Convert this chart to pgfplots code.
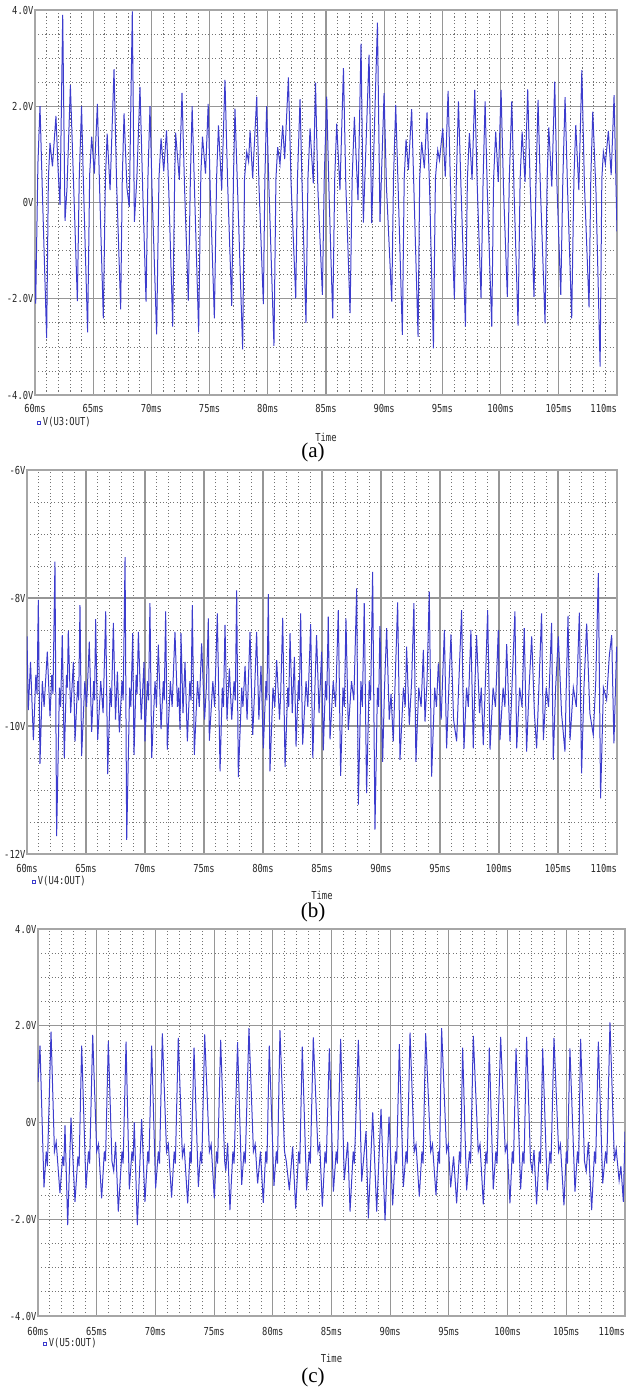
\documentclass[border=0pt]{standalone}
\usepackage{fontspec}
\setmainfont{Liberation Serif}
\newfontfamily\psfont[FakeStretch=0.8]{DejaVu Sans Mono}
\usepackage{pgfplots}
\usepackage{pgfplotstable}
\pgfplotsset{compat=1.18}
\definecolor{lc}{RGB}{60,60,205}
\definecolor{gmaj}{RGB}{150,150,150}
\definecolor{gmin}{RGB}{115,115,115}

\pgfplotsset{psp/.style={
  scale only axis, no markers,
  xmin=60, xmax=110,
  xtick={60,65,...,110},
  xticklabels={60ms,65ms,70ms,75ms,80ms,85ms,90ms,95ms,100ms,105ms,\makebox[0pt][r]{110ms}},
  minor x tick num=4, minor y tick num=3,
  grid=both,
  major grid style={gmaj, line width=0.55pt},
  minor grid style={gmin, line width=0.35pt, dash pattern=on 0.55pt off 1.15pt},
  major tick length=0pt, minor tick length=0pt,
  axis line style={gmaj!85, line width=0.6pt},
  ticklabel style={font=\psfont\fontsize{5.5}{6}\selectfont, text=black!85},
  xticklabel style={anchor=base, yshift=-9pt},
  yticklabel style={anchor=east, inner sep=0.6pt},
  xlabel={Time},
  xlabel style={at={(0.5,-0.109)}, anchor=center, font=\psfont\fontsize{5.5}{6}\selectfont, text=black!85},
  legend style={draw=none, fill=none, anchor=west, inner sep=0pt,
    font=\psfont\fontsize{5.5}{6}\selectfont, text=black!85,
    nodes={inner sep=1pt}},
  legend image code/.code={\draw[lc, line width=0.4pt] (0pt,-0.9pt) rectangle (1.8pt,0.9pt);},
}}

\pgfplotstableread{
t v
60.00 -1.2
60.06 -2.1
60.25 0.8
60.43 2.0
60.60 0.5
61.00 -2.82
61.15 0.5
61.29 1.24
61.50 0.75
61.80 1.8
62.00 0.6
62.15 -0.05
62.38 3.9
62.58 -0.38
62.75 0.3
63.04 2.44
63.30 0.5
63.64 -2.05
63.80 0.5
64.00 2.0
64.15 0.5
64.52 -2.7
64.70 0.6
64.87 1.37
65.10 0.6
65.36 2.05
65.55 0.3
65.87 -2.41
66.05 0.5
66.20 1.43
66.45 0.26
66.79 2.77
67.00 0.5
67.36 -2.22
67.50 0.5
67.65 1.85
67.90 0.3
68.10 -0.09
68.36 3.97
68.54 -0.4
68.75 0.5
69.02 2.4
69.25 0.3
69.54 -2.06
69.70 0.5
69.88 2.0
70.05 0.3
70.45 -2.74
70.65 0.5
70.83 1.33
71.06 0.65
71.30 1.5
71.50 0.2
71.83 -2.58
72.00 0.5
72.08 1.45
72.40 0.47
72.63 2.28
72.85 0.3
73.17 -2.04
73.35 0.5
73.50 2.0
73.70 0.3
74.06 -2.7
74.25 0.6
74.39 1.37
74.65 0.6
74.88 2.05
75.05 0.3
75.41 -2.41
75.60 0.5
75.76 1.6
76.04 0.26
76.32 2.55
76.55 0.4
76.90 -2.15
77.05 0.5
77.18 1.95
77.40 0.3
77.84 -3.05
78.00 0.5
78.19 1.05
78.35 0.85
78.48 1.5
78.70 0.5
79.05 2.2
79.25 0.3
79.62 -2.11
79.75 0.5
79.90 2.0
80.10 0.3
80.53 -2.98
80.70 0.5
80.85 1.15
81.05 0.8
81.28 1.6
81.45 0.9
81.77 2.6
82.00 0.4
82.40 -1.99
82.55 0.5
82.77 2.15
82.95 0.3
83.28 -2.5
83.45 0.5
83.63 1.54
83.91 0.4
84.10 2.49
84.30 0.3
84.69 -1.92
84.85 0.5
85.06 2.2
85.25 0.3
85.58 -2.41
85.75 0.5
85.92 1.64
86.20 0.26
86.50 2.79
86.70 0.4
87.07 -2.3
87.25 0.5
87.44 1.78
87.75 0.05
88.01 3.3
88.21 -0.42
88.70 3.07
88.93 -0.43
89.42 3.74
89.64 -0.4
89.99 2.27
90.20 0.3
90.65 -2.06
90.80 0.5
90.99 2.03
91.20 0.3
91.56 -2.75
91.72 0.5
91.88 1.31
92.08 0.68
92.36 1.94
92.55 0.3
92.91 -2.79
93.05 0.5
93.22 1.26
93.45 0.71
93.68 1.87
93.90 0.3
94.23 -3.03
94.40 0.5
94.60 1.09
94.75 0.88
95.03 1.54
95.25 0.54
95.49 2.32
95.70 0.3
96.03 -2.01
96.20 0.5
96.38 2.1
96.60 0.3
96.98 -2.58
97.15 0.5
97.32 1.44
97.55 0.47
97.78 2.34
98.00 0.3
98.32 -1.99
98.50 0.5
98.67 2.1
98.85 0.3
99.24 -2.58
99.40 0.5
99.58 1.47
99.80 0.43
100.04 2.34
100.25 0.3
100.58 -1.96
100.75 0.5
100.96 2.1
101.15 0.3
101.50 -2.56
101.68 0.5
101.85 1.47
102.10 0.43
102.33 2.35
102.55 0.3
102.87 -1.96
103.05 0.5
103.22 2.13
103.42 0.3
103.82 -2.51
104.00 0.5
104.14 1.56
104.40 0.33
104.65 2.51
104.85 0.3
105.17 -1.92
105.35 0.5
105.54 2.19
105.75 0.3
106.11 -2.41
106.30 0.5
106.46 1.61
106.72 0.26
106.98 2.75
107.20 0.4
107.60 -2.18
107.75 0.5
107.92 1.89
108.20 0.19
108.55 -3.41
108.70 0.5
108.83 1.05
109.00 0.8
109.26 1.49
109.50 0.57
109.75 2.23
110.00 -0.6
}\dataA

\pgfplotstableread{
t v
60.00 -8.6
60.11 -9.75
60.30 -9.0
60.54 -10.22
60.75 -9.2
60.85 -9.5
60.96 -8.03
61.10 -10.59
61.30 -9.3
61.45 -9.7
61.72 -8.84
61.95 -9.85
62.10 -9.2
62.20 -9.5
62.37 -7.43
62.51 -11.72
62.75 -9.4
62.85 -9.7
62.99 -8.58
63.16 -10.5
63.35 -9.2
63.42 -9.4
63.50 -8.51
63.70 -9.8
63.93 -9.0
64.07 -10.24
64.30 -9.3
64.38 -9.6
64.49 -8.11
64.63 -10.47
64.90 -9.3
65.05 -9.7
65.28 -8.68
65.48 -10.09
65.65 -9.3
65.72 -9.6
65.82 -8.33
65.99 -10.22
66.25 -9.3
66.45 -9.8
66.67 -8.21
66.84 -10.75
67.05 -9.4
67.15 -9.7
67.32 -8.39
67.50 -9.9
67.66 -9.15
67.83 -10.1
68.05 -9.3
68.15 -9.6
68.31 -7.36
68.45 -11.78
68.70 -9.4
68.80 -9.7
68.96 -8.55
69.07 -10.45
69.25 -9.2
69.33 -9.5
69.44 -8.53
69.68 -9.9
69.92 -9.0
70.00 -10.24
70.20 -9.3
70.30 -9.6
70.42 -8.08
70.57 -10.5
70.85 -9.3
70.97 -9.7
71.13 -8.73
71.36 -10.05
71.55 -9.3
71.63 -9.6
71.75 -8.21
71.89 -10.37
72.15 -9.3
72.30 -9.7
72.54 -8.53
72.75 -9.7
72.85 -9.4
72.97 -10.06
73.05 -8.55
73.22 -9.8
73.39 -9.0
73.59 -10.24
73.80 -9.3
73.90 -9.6
74.01 -8.11
74.18 -10.45
74.45 -9.3
74.60 -9.7
74.80 -8.71
75.05 -9.9
75.20 -9.4
75.37 -8.32
75.45 -10.23
75.75 -9.3
75.90 -9.7
76.13 -8.24
76.36 -10.71
76.55 -9.4
76.65 -9.7
76.78 -8.42
76.95 -9.9
77.15 -9.1
77.35 -9.9
77.55 -9.3
77.65 -9.6
77.77 -7.88
77.91 -10.8
78.20 -9.4
78.30 -9.7
78.48 -9.06
78.65 -9.9
78.90 -8.53
79.13 -10.14
79.30 -9.4
79.46 -8.53
79.65 -9.9
79.83 -9.06
80.03 -10.35
80.25 -9.3
80.33 -9.6
80.45 -7.94
80.59 -10.71
80.85 -9.4
81.00 -9.7
81.16 -8.97
81.40 -9.9
81.50 -9.5
81.67 -8.31
81.87 -10.64
82.10 -9.4
82.18 -9.7
82.29 -8.55
82.48 -9.8
82.66 -8.92
82.80 -10.32
83.00 -9.3
83.08 -9.6
83.19 -8.24
83.36 -10.29
83.65 -9.3
83.80 -9.7
84.04 -8.41
84.22 -10.5
84.40 -9.4
84.54 -8.58
84.75 -9.8
84.97 -8.84
85.11 -10.38
85.30 -9.3
85.40 -9.6
85.53 -8.29
85.68 -10.21
85.95 -9.3
86.15 -9.7
86.38 -8.19
86.58 -10.78
86.78 -9.4
86.90 -9.7
87.03 -8.32
87.23 -10.06
87.50 -9.3
87.70 -9.6
87.94 -7.85
88.08 -11.23
88.30 -9.3
88.42 -9.7
88.58 -8.08
88.78 -11.05
89.00 -9.3
89.12 -9.6
89.29 -7.59
89.49 -11.62
89.70 -9.4
89.80 -9.7
89.91 -8.44
90.14 -10.56
90.30 -9.4
90.48 -8.47
90.70 -9.9
90.85 -9.5
91.04 -10.24
91.20 -9.3
91.41 -8.07
91.61 -10.53
91.90 -9.4
92.05 -9.7
92.17 -8.76
92.40 -9.98
92.60 -9.3
92.79 -8.08
92.96 -10.56
93.20 -9.4
93.40 -9.7
93.59 -8.81
93.73 -9.93
93.90 -9.3
94.09 -7.9
94.29 -10.79
94.55 -9.4
94.70 -9.7
94.86 -9.02
95.10 -9.9
95.37 -8.5
95.56 -10.35
95.75 -9.4
95.93 -8.57
96.15 -9.9
96.41 -10.24
96.60 -9.3
96.83 -8.19
97.03 -10.36
97.25 -9.4
97.40 -9.7
97.62 -8.5
97.82 -10.35
97.95 -9.4
98.10 -8.58
98.35 -9.8
98.50 -9.4
98.67 -10.3
98.85 -9.3
99.04 -8.19
99.24 -10.37
99.50 -9.4
99.70 -9.7
99.94 -8.5
100.08 -10.22
100.35 -9.4
100.50 -9.7
100.65 -8.72
100.93 -10.24
101.10 -9.4
101.35 -8.21
101.50 -10.35
101.75 -9.4
101.95 -9.7
102.14 -8.47
102.34 -10.4
102.55 -9.4
102.77 -8.6
103.00 -9.8
103.19 -10.35
103.40 -9.3
103.61 -8.24
103.76 -10.22
104.00 -9.4
104.20 -9.7
104.46 -8.39
104.60 -10.53
104.80 -9.4
105.03 -8.6
105.30 -9.8
105.59 -10.4
105.70 -9.4
105.85 -8.28
106.02 -10.22
106.30 -9.4
106.55 -9.7
106.81 -8.23
107.00 -10.74
107.20 -9.4
107.43 -8.4
107.70 -9.8
107.99 -10.14
108.20 -9.3
108.42 -7.61
108.61 -11.13
108.85 -9.4
109.12 -9.59
109.35 -8.9
109.55 -8.58
109.74 -10.27
109.97 -8.76
110.00 -9.0
}\dataB

\pgfplotstableread{
t v
60.00 0.84
60.17 1.59
60.51 -1.34
60.70 -0.6
60.80 -0.9
61.11 1.88
61.40 -0.6
61.55 -0.4
61.87 -1.46
62.10 -0.7
62.20 -0.9
62.30 -0.06
62.53 -2.12
62.81 0.1
63.15 -1.64
63.40 -0.7
63.50 -0.9
63.72 1.59
64.09 -1.36
64.30 -0.6
64.40 -0.85
64.66 1.81
65.00 -0.6
65.15 -0.45
65.42 -1.57
65.65 -0.6
65.75 -0.8
65.99 1.68
66.30 -0.8
66.45 -1.0
66.61 -0.4
66.84 -1.84
67.15 -0.6
67.25 -0.85
67.50 1.67
67.78 -1.38
68.00 -0.6
68.10 -0.8
68.20 0.0
68.46 -2.12
68.83 0.07
69.11 -1.64
69.35 -0.6
69.45 -0.85
69.68 1.59
70.02 -1.36
70.25 -0.6
70.35 -0.85
70.59 1.84
70.95 -0.6
71.10 -0.45
71.38 -1.55
71.60 -0.6
71.70 -0.85
71.95 1.75
72.30 -0.7
72.45 -0.5
72.75 -1.67
72.95 -0.6
73.05 -0.85
73.29 1.55
73.66 -1.33
73.85 -0.6
73.95 -0.85
74.20 1.82
74.60 -0.6
74.75 -0.45
75.02 -1.57
75.20 -0.6
75.30 -0.85
75.56 1.71
75.90 -0.8
76.00 -1.0
76.15 -0.42
76.35 -1.81
76.60 -0.6
76.70 -0.85
77.00 1.66
77.35 -1.29
77.55 -0.6
77.65 -0.85
77.97 1.95
78.35 -0.6
78.50 -0.45
78.71 -1.26
78.95 -0.6
79.19 -1.66
79.40 -0.6
79.50 -0.85
79.70 1.59
80.10 -1.31
80.30 -0.6
80.40 -0.85
80.61 1.91
81.00 -0.6
81.15 -0.8
81.41 -1.4
81.69 -0.5
81.95 -1.78
82.20 -0.6
82.30 -0.85
82.51 1.57
82.88 -1.4
83.10 -0.6
83.20 -0.85
83.45 1.76
83.85 -0.6
84.00 -0.45
84.22 -1.74
84.45 -0.6
84.55 -0.85
84.82 1.53
85.16 -1.43
85.40 -0.6
85.50 -0.85
85.78 1.73
86.09 -1.19
86.38 -0.4
86.58 -1.84
86.85 -0.6
86.95 -0.85
87.29 1.71
87.57 -1.22
87.94 -0.18
88.14 -1.98
88.51 0.21
88.85 -1.84
89.22 0.28
89.56 -2.03
89.90 0.12
90.21 -1.71
90.45 -0.6
90.55 -0.85
90.78 1.62
91.12 -1.33
91.35 -0.6
91.45 -0.85
91.69 1.86
92.05 -0.6
92.20 -0.45
92.48 -1.53
92.70 -0.6
92.80 -0.85
93.02 1.84
93.45 -0.6
93.60 -0.45
93.90 -1.5
94.10 -0.6
94.20 -0.85
94.38 1.95
94.80 -0.6
94.95 -0.45
95.15 -1.34
95.40 -0.7
95.66 -1.67
95.90 -0.6
96.00 -0.85
96.17 1.55
96.51 -1.4
96.75 -0.6
96.85 -0.85
97.08 1.79
97.50 -0.6
97.65 -0.45
97.93 -1.69
98.15 -0.6
98.25 -0.85
98.44 1.55
98.78 -1.38
99.00 -0.6
99.10 -0.85
99.41 1.77
99.80 -0.6
99.95 -0.45
100.20 -1.67
100.40 -0.6
100.50 -0.85
100.72 1.53
101.11 -1.38
101.30 -0.6
101.40 -0.85
101.62 1.77
101.95 -0.8
102.10 -1.0
102.25 -0.57
102.47 -1.69
102.70 -0.6
102.80 -0.85
102.99 1.53
103.38 -1.4
103.60 -0.6
103.70 -0.85
103.95 1.75
104.35 -0.6
104.50 -0.45
104.80 -1.71
105.00 -0.6
105.10 -0.85
105.31 1.53
105.74 -1.43
105.95 -0.6
106.05 -0.85
106.22 1.73
106.55 -0.8
106.70 -1.0
106.88 -0.4
107.16 -1.81
107.40 -0.6
107.50 -0.85
107.73 1.67
108.10 -1.26
108.35 -0.6
108.45 -0.85
108.72 2.07
109.10 -0.8
109.25 -0.55
109.50 -1.2
109.65 -0.9
109.86 -1.64
110.00 -0.19
}\dataC

\begin{document}
\begin{tikzpicture}
\path[use as bounding box] (0,0) rectangle (313pt,-694pt);

% (a)
\begin{axis}[psp, at={(17.5pt,-5pt)}, anchor=north west,
  width=291pt, height=192.5pt,
  ymin=-4, ymax=4, ytick={-4,-2,0,2,4},
  yticklabels={-4.0V,-2.0V,0V,2.0V,4.0V},
  legend style={at={(0.002,-0.0727)}}]
\addplot[lc, line width=0.5pt] table[x=t, y=v] {\dataA};
\addlegendentry{V(U3:OUT)}
\end{axis}
\node[font=\fontsize{10.5}{12}\selectfont] at (156.5pt,-226pt) {(a)};

% (b)
\begin{axis}[psp, at={(13.5pt,-235pt)}, anchor=north west,
  width=295pt, height=192pt,
  ymin=-12, ymax=-6, ytick={-12,-10,-8,-6},
  yticklabels={-12V,-10V,-8V,-6V},
  legend style={at={(0.007,-0.073)}}]
\addplot[lc, line width=0.5pt] table[x=t, y=v] {\dataB};
\addlegendentry{V(U4:OUT)}
\end{axis}
\node[font=\fontsize{10.5}{12}\selectfont] at (156.5pt,-456pt) {(b)};

% (c)
\begin{axis}[psp, at={(19pt,-464.5pt)}, anchor=north west,
  width=293.5pt, height=193.5pt,
  ymin=-4, ymax=4, ytick={-4,-2,0,2,4},
  yticklabels={-4.0V,-2.0V,0V,2.0V,4.0V},
  xticklabel style={yshift=-0.5pt},
  legend style={at={(0.007,-0.0724)}}]
\addplot[lc, line width=0.5pt] table[x=t, y=v] {\dataC};
\addlegendentry{V(U5:OUT)}
\end{axis}
\node[font=\fontsize{10.5}{12}\selectfont] at (156.5pt,-688.5pt) {(c)};
\end{tikzpicture}
\end{document}
